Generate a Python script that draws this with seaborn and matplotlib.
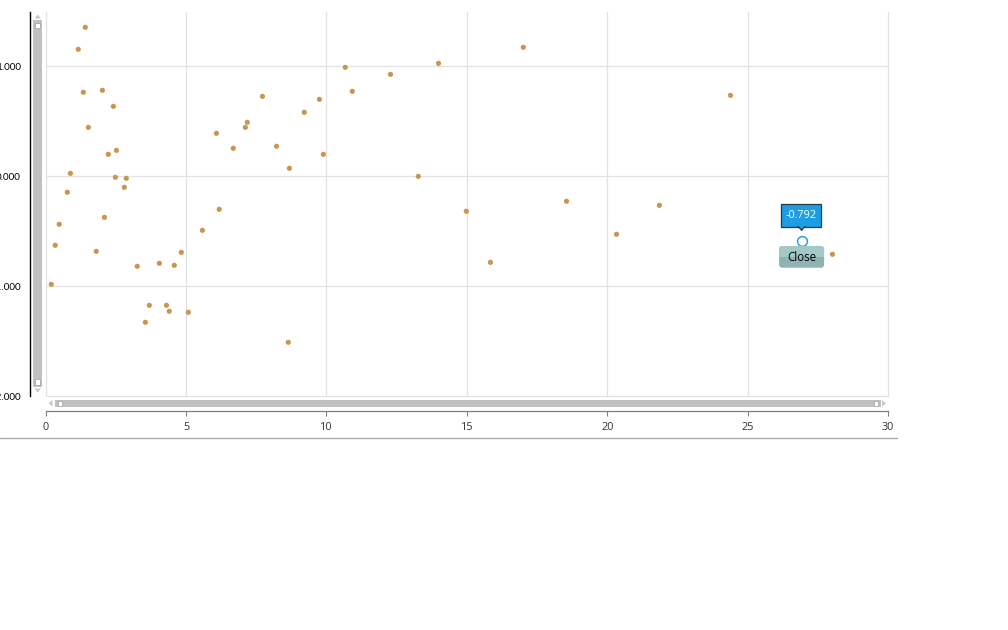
import matplotlib
matplotlib.use("Agg")
import matplotlib.pyplot as plt
import seaborn as sns
import pandas as pd
from matplotlib.patches import Rectangle, FancyBboxPatch, Polygon
from matplotlib.transforms import IdentityTransform

# ---- data ----
x_values = [1.41, 1.16, 1.34, 2.02, 2.41, 1.52, 2.23, 2.52, 0.88, 2.48,
            2.87, 2.80, 0.77, 2.09, 0.48, 0.34, 1.80, 0.20, 3.26, 4.05,
            4.58, 4.83, 3.69, 4.30, 4.40, 3.55, 5.08, 5.58, 6.18, 6.08,
            6.68, 7.11, 7.18, 7.72, 8.22, 8.68, 8.64, 9.21, 9.75, 9.89,
            10.67, 10.92, 12.28, 13.99, 13.27, 14.98, 15.84, 17.01, 18.55, 20.33,
            21.86, 24.39, 28.02]
y_values = [1.355, 1.155, 0.764, 0.782, 0.636, 0.445, 0.200, 0.236, 0.027, -0.009,
            -0.018, -0.100, -0.145, -0.373, -0.436, -0.627, -0.682, -0.982, -0.818, -0.791,
            -0.809, -0.691, -1.173, -1.173, -1.227, -1.327, -1.236, -0.491, -0.300, 0.391,
            0.255, 0.445, 0.491, 0.727, 0.273, 0.073, -1.509, 0.582, 0.700, 0.200,
            0.991, 0.773, 0.927, 1.027, 0.000, -0.318, -0.782, 1.173, -0.227, -0.527,
            -0.264, 0.736, -0.709]
x_ticks = [0, 5, 10, 15, 20, 25, 30]
x_tick_labels = ["0", "5", "10", "15", "20", "25", "30"]
y_ticks = [-2, -1, 0, 1]
y_tick_labels = ["-2.000", "-1.000", "0.000", "1.000"]
hover_x = 26.94
hover_y = -0.588
hover_label = "-0.792"
close_label = "Close"

df = pd.DataFrame({"x": x_values, "y": y_values})

sns.set_theme(style="white")
plt.rcParams["font.family"] = ["Open Sans", "DejaVu Sans"]

W, H = 1008, 630
fig = plt.figure(figsize=(W / 100, H / 100), dpi=100)
fig.patch.set_facecolor("white")

L, R, T, B = 45.7, 888.0, 12.0, 396.3
ax = fig.add_axes([L / W, 1 - B / H, (R - L) / W, (B - T) / H])

sns.scatterplot(data=df, x="x", y="y", ax=ax, color="#c99650", s=14,
                edgecolor="none", linewidth=0, zorder=3, legend=False)

ax.set_xlim(0, 30)
ax.set_ylim(-2, 1.494)
ax.set_xlabel("")
ax.set_ylabel("")

grid_c = "#e2e2e2"
for xv in x_ticks:
    ax.axvline(xv, color=grid_c, lw=0.9, zorder=1, clip_on=False)
for yv in y_ticks:
    ax.axhline(yv, color=grid_c, lw=0.9, zorder=1, clip_on=False)

ax.spines["top"].set_visible(False)
ax.spines["right"].set_visible(False)

# bottom axis (moved below the scrollbar)
ax.spines["bottom"].set_position(("outward", 10.4))
ax.spines["bottom"].set_color("#808080")
ax.spines["bottom"].set_linewidth(0.9)
ax.set_xticks(x_ticks)
ax.set_xticklabels(x_tick_labels)
ax.tick_params(axis="x", which="major", direction="out", length=3.8, width=0.8,
               color="#808080", labelsize=7.8, labelcolor="#333333", pad=4.2, bottom=True)

# left axis
ax.spines["left"].set_position(("outward", 11.1))
ax.spines["left"].set_color("black")
ax.spines["left"].set_linewidth(1.0)
ax.set_yticks(y_ticks)
ax.set_yticklabels(y_tick_labels)
ax.set_yticks([-2], minor=True)
ax.tick_params(axis="y", which="major", length=0, labelsize=7.1, labelcolor="black", pad=6.6, left=True)
ax.tick_params(axis="y", which="minor", length=4.3, width=1.0, color="black", direction="out", left=True)
for lab in ax.get_yticklabels():
    lab.set_family(["Lato", "DejaVu Sans"])

# ---- helpers in pixel coordinates (top-left origin) ----
def rect(x0, y0, x1, y1, **kw):
    p = Rectangle((x0, H - y1), x1 - x0, y1 - y0, transform=IdentityTransform(), **kw)
    fig.add_artist(p)
    return p

def tri(points, **kw):
    p = Polygon([(px, H - py) for px, py in points], closed=True,
                transform=IdentityTransform(), **kw)
    fig.add_artist(p)
    return p

def hline(x0, x1, y, **kw):
    fig.add_artist(plt.Line2D([x0, x1], [H - y, H - y], transform=IdentityTransform(), **kw))

bar_c = "#c1c1c1"
arrow_c = "#c9c9c9"
# vertical scrollbar
rect(33.3, 20, 42, 386.5, facecolor=bar_c, edgecolor="none")
rect(35.2, 23, 40.2, 28, facecolor="white", edgecolor="#a8a8a8", lw=0.6)
rect(35.2, 379, 40.2, 384.5, facecolor="white", edgecolor="#a8a8a8", lw=0.6)
tri([(34.5, 18.5), (41, 18.5), (37.7, 14.5)], facecolor=arrow_c, edgecolor="none")
tri([(34.5, 388.5), (41, 388.5), (37.7, 392.5)], facecolor=arrow_c, edgecolor="none")
# horizontal scrollbar
rect(55, 399.5, 880.5, 407.2, facecolor=bar_c, edgecolor="none")
rect(57.5, 401, 62, 405.8, facecolor="white", edgecolor="#a8a8a8", lw=0.6)
rect(873.5, 401, 878, 405.8, facecolor="white", edgecolor="#a8a8a8", lw=0.6)
tri([(52.5, 400), (52.5, 406.5), (48.5, 403.3)], facecolor=arrow_c, edgecolor="none")
tri([(882, 400), (882, 406.5), (886, 403.3)], facecolor=arrow_c, edgecolor="none")

# separator line below the x axis
hline(0, 897, 438, color="#ababab", lw=1.0)

# ---- tooltip around the hovered point ----
fig.canvas.draw()
hx, hy = ax.transData.transform((hover_x, hover_y))  # display pixels (bottom-left origin)
hy_top = H - hy

ax.scatter([hover_x], [hover_y], s=50, facecolors="white", edgecolors="#2a9fe0",
           linewidths=1.1, zorder=5)

# callout box
bx0, bx1 = hx - 20.7, hx + 18.7
by0, by1 = hy_top - 36.7, hy_top - 14.3
rect(bx0, by0, bx1, by1, facecolor="#1e9de2", edgecolor="#233a48", lw=0.9, zorder=6)
tri([(hx - 5, by1 - 0.5), (hx + 4, by1 - 0.5), (hx - 0.5, by1 + 4.5)],
    facecolor="#233a48", edgecolor="none", zorder=6)
tri([(hx - 3.5, by1 - 0.8), (hx + 2.5, by1 - 0.8), (hx - 0.5, by1 + 2.6)],
    facecolor="#1e9de2", edgecolor="none", zorder=7)
fig.text((bx0 + bx1) / 2 / W, 1 - (by0 + by1) / 2 / H, hover_label, color="white",
         fontsize=7.8, ha="center", va="center", zorder=8)

# close button
cx0, cx1 = hx - 23, hx + 22
cy0, cy1 = hy_top + 5, hy_top + 26.7
btn = FancyBboxPatch((cx0, H - cy1), cx1 - cx0, cy1 - cy0,
                     boxstyle="round,pad=0,rounding_size=3",
                     transform=IdentityTransform(), facecolor="#8fb3b1",
                     edgecolor="none", zorder=6)
fig.add_artist(btn)
btn_top = FancyBboxPatch((cx0, H - (cy0 + 11)), cx1 - cx0, 11,
                         boxstyle="round,pad=0,rounding_size=3",
                         transform=IdentityTransform(), facecolor="#a3c8c6",
                         edgecolor="none", zorder=6)
fig.add_artist(btn_top)
rect(cx0, cy0 + 6, cx1, cy0 + 11, facecolor="#a3c8c6", edgecolor="none", zorder=6)
fig.text((cx0 + cx1) / 2 / W, 1 - ((cy0 + cy1) / 2 + 0.5) / H, close_label, color="black",
         fontsize=8.3, ha="center", va="center", zorder=8)

fig.savefig("out.png", dpi=100, facecolor="white")
